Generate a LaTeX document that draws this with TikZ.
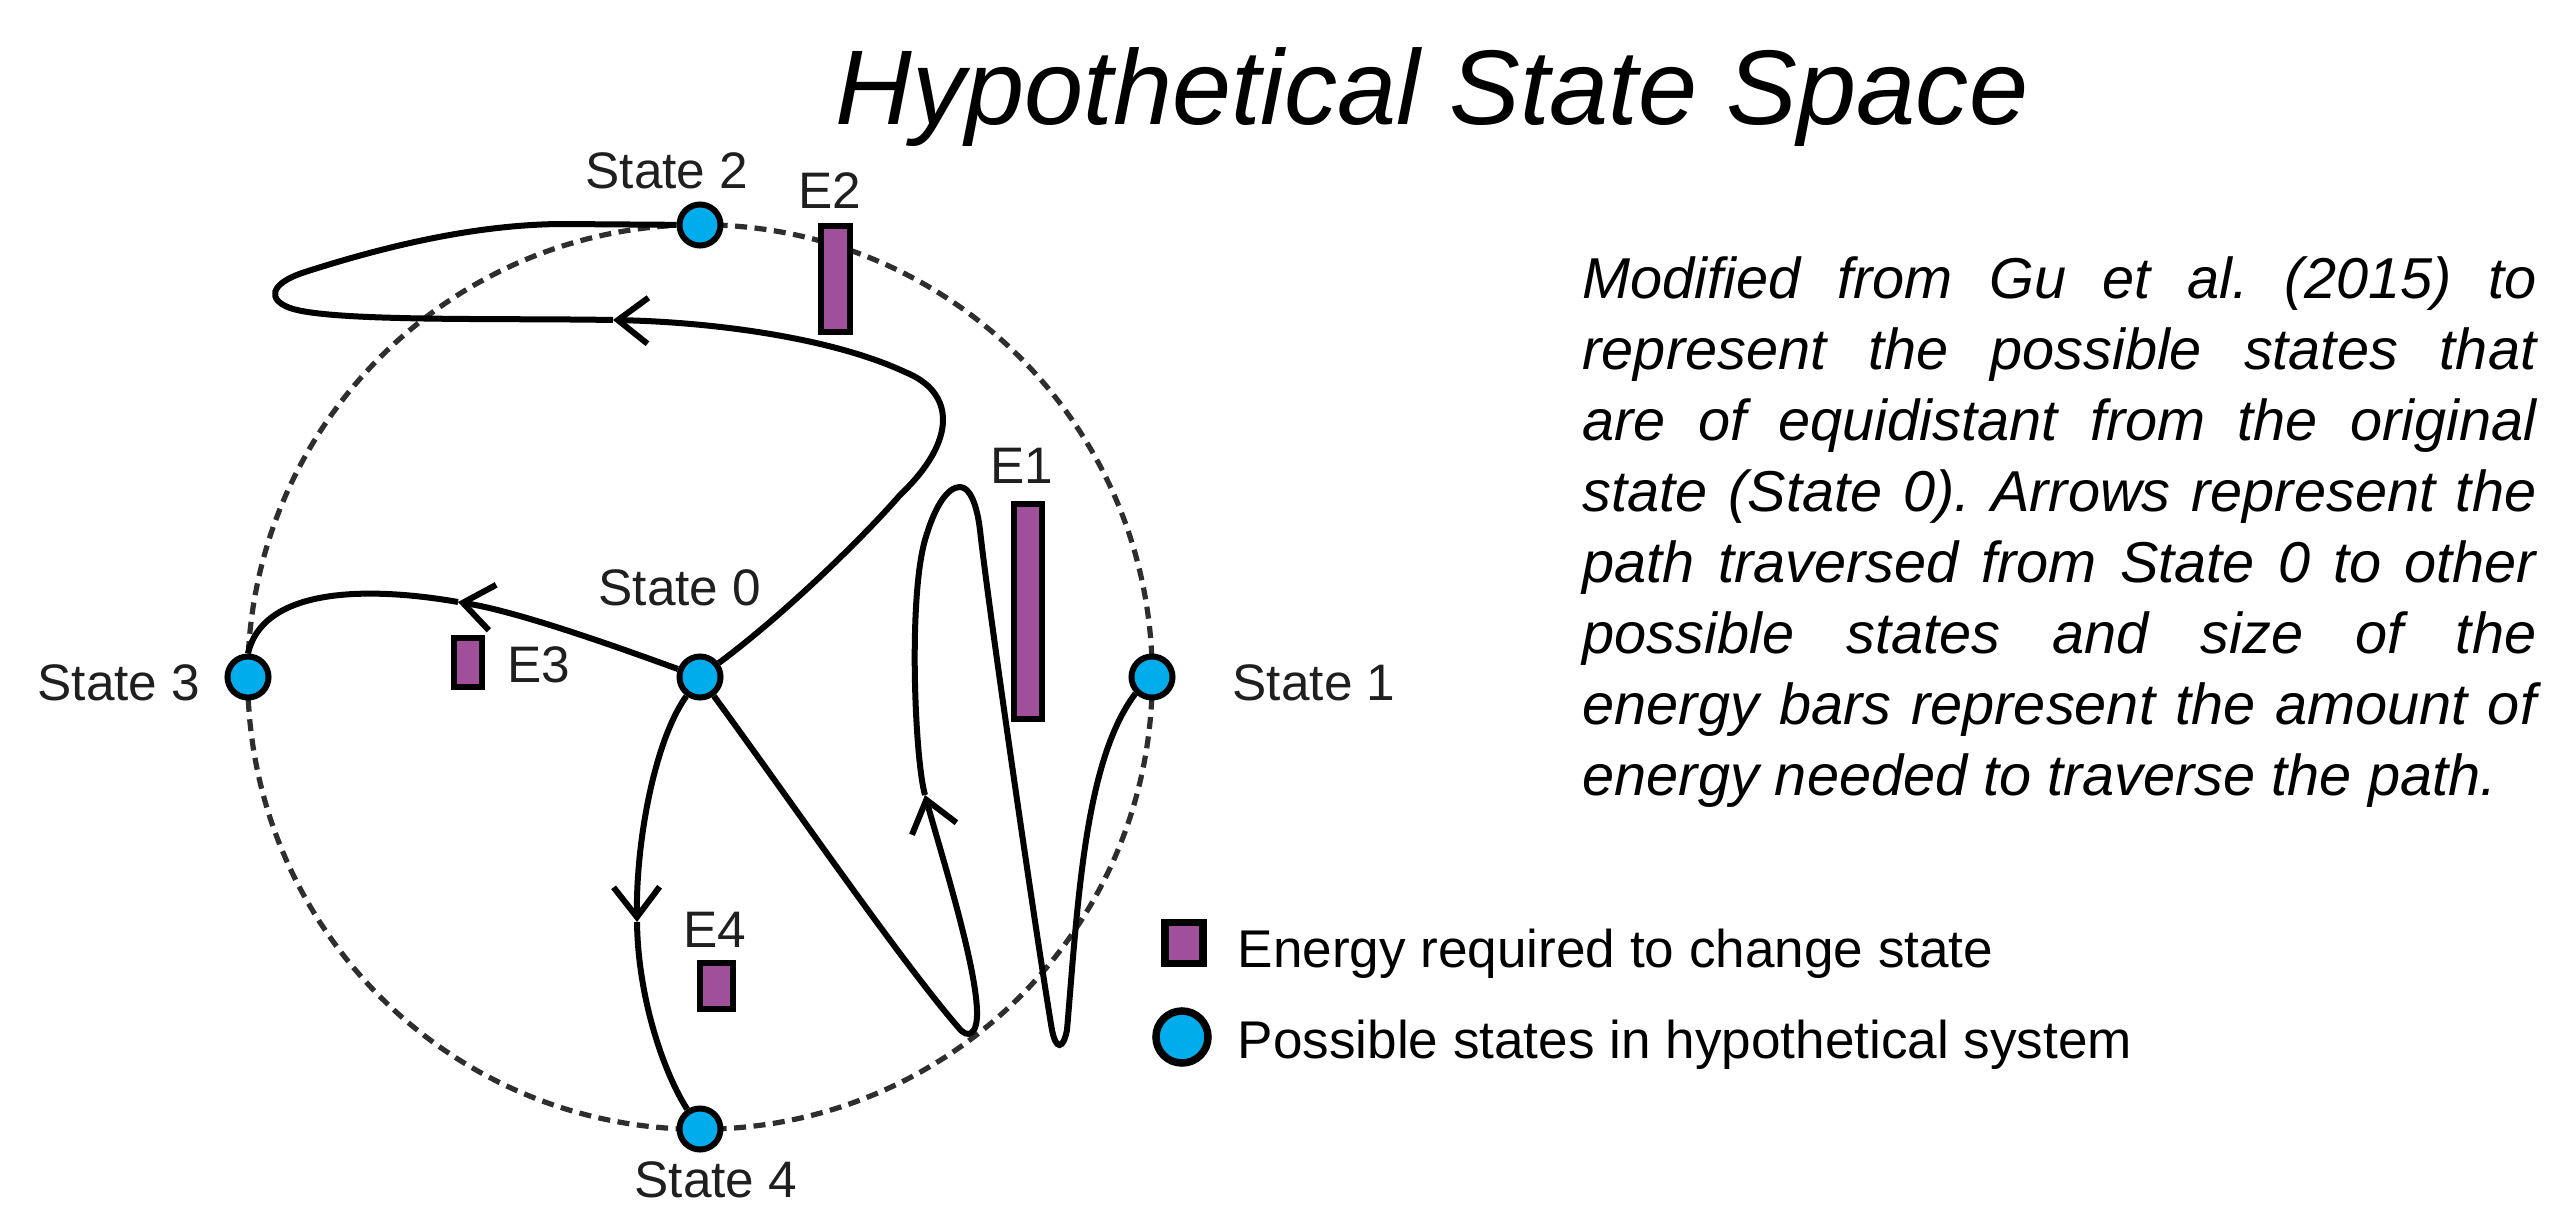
\documentclass[tikz,border=0pt]{standalone}
\usepackage{fontspec}
\setmainfont{Liberation Sans}
\usetikzlibrary{arrows.meta}
\definecolor{ebarcol}{RGB}{160,80,155}
\definecolor{statecol}{RGB}{0,172,236}
\begin{document}
\frenchspacing
\begin{tikzpicture}[x=0.01cm,y=-0.01cm,
 statenode/.style={circle,draw=black,line width=0.06cm,fill=statecol,minimum size=0.41cm,inner sep=0pt},
 ebarnode/.style={rectangle,draw=black,line width=0.06cm,fill=ebarcol,inner sep=0pt},
 lab/.style={font=\fontsize{14.6pt}{17pt}\selectfont,text=black!88,inner sep=0pt},
 desc/.style={font=\fontsize{16.4pt}{20pt}\selectfont\itshape,inner sep=0pt,anchor=base west},
 legtext/.style={font=\fontsize{15.1pt}{18pt}\selectfont,inner sep=0pt,anchor=base west},
 pathline/.style={line width=0.06cm,black},
 barb/.style={pathline,-{Straight Barb[length=0.3cm,width=0.46cm]}},
 ring/.style={line width=0.052cm,black!82,dash pattern=on 0.12cm off 0.075cm}]
\useasboundingbox (0,0) rectangle (2553,1215);

% title
\node[font=\fontsize{30.2pt}{36pt}\selectfont\itshape,anchor=base,inner sep=0pt] (title) at (1432,124) {Hypothetical State Space};

% centre and ring
\coordinate (c) at (700,677);
\draw[ring] (c) circle[radius=4.52cm];

% energy bars
\node[ebarnode,minimum width=0.29cm,minimum height=1.06cm] (e2) at (835.5,279) {};
\node[ebarnode,minimum width=0.28cm,minimum height=2.15cm] (e1) at (1028,611.5) {};
\node[ebarnode,minimum width=0.28cm,minimum height=0.49cm] (e3) at (468,662.5) {};
\node[ebarnode,minimum width=0.33cm,minimum height=0.46cm] (e4) at (716.5,986) {};

% coordinates where the path arrows sit
\coordinate (a2) at (613,320);
\coordinate (a3) at (458,602);
\coordinate (a4) at (637,922);
\coordinate (a1) at (925,795);

% states
\node[statenode] (s0) at (700,677) {};
\node[statenode] (s1) at (1152,677) {};
\node[statenode] (s2) at (700,225) {};
\node[statenode] (s3) at (248,677) {};
\node[statenode] (s4) at (700,1129) {};

% paths
% State 0 -> State 2
\draw[barb] (s0) .. controls (790,610) and (870,530) .. (900,495)
  .. controls (958,440) and (955,392) .. (905,372)
  .. controls (830,337) and (710,322) .. (a2);
\draw[pathline] (a2) .. controls (500,318) and (330,322) .. (290,308)
  .. controls (268,300) and (268,284) .. (305,272)
  .. controls (380,248) and (470,225) .. (560,224) -- (s2);
% State 0 -> State 3
\draw[barb] (s0) .. controls (620,648) and (520,612) .. (a3);
\draw[pathline] (a3) .. controls (390,590) and (265,580) .. (s3.north);
% State 0 -> State 4
\draw[barb] (s0) .. controls (655,740) and (636,840) .. (a4);
\draw[pathline] (a4) .. controls (638,1000) and (665,1075) .. (s4);
% State 0 -> State 1
\draw[barb] (s0) .. controls (790,800) and (900,960) .. (958,1027)
  .. controls (968,1040) and (978,1035) .. (977,1010)
  .. controls (975,960) and (940,850) .. (a1);
\draw[pathline] (a1) .. controls (915,760) and (908,600) .. (925,540)
  .. controls (935,505) and (948,487) .. (960,487)
  .. controls (970,487) and (977,505) .. (980,530)
  .. controls (990,620) and (1040,960) .. (1052,1030)
  .. controls (1056,1050) and (1063,1050) .. (1067,1030)
  .. controls (1078,900) and (1085,760) .. (s1.south west);

% labels
\node[lab,anchor=base] (l2) at (667,188) {State 2};
\node[lab,anchor=base] (l0) at (680,605) {State 0};
\node[lab,anchor=base east] (l3) at (201,700) {State 3};
\node[lab,anchor=base west] (l1) at (1232,700) {State 1};
\node[lab,anchor=base] (l4) at (716,1197) {State 4};
\node[lab,anchor=base] (le2) at (830,208) {E2};
\node[lab,anchor=base] (le1) at (1022,483) {E1};
\node[lab,anchor=base west] (le3) at (507,682) {E3};
\node[lab,anchor=base] (le4) at (715,947) {E4};

% description
\node[desc] (d1) at (1582,298) {\makebox[9.53cm][s]{Modified from Gu et al. (2015) to}};
\node[desc] (d2) at (1582,369) {\makebox[9.53cm][s]{represent the possible states that}};
\node[desc] (d3) at (1582,440) {\makebox[9.53cm][s]{are of equidistant from the original}};
\node[desc] (d4) at (1582,511) {\makebox[9.53cm][s]{state (State 0). Arrows represent the}};
\node[desc] (d5) at (1582,582) {\makebox[9.53cm][s]{path traversed from State 0 to other}};
\node[desc] (d6) at (1582,653) {\makebox[9.53cm][s]{possible states and size of the}};
\node[desc] (d7) at (1582,724) {\makebox[9.53cm][s]{energy bars represent the amount of}};
\node[desc] (d8) at (1582,795) {energy needed to traverse the path.};

% legend
\node[rectangle,draw=black,line width=0.075cm,fill=ebarcol,inner sep=0pt,minimum width=0.38cm,minimum height=0.41cm] (lsq) at (1184,943) {};
\node[legtext] (lt1) at (1237,967) {Energy required to change state};
\node[circle,draw=black,line width=0.075cm,fill=statecol,inner sep=0pt,minimum size=0.52cm] (lc) at (1182,1037) {};
\node[legtext] (lt2) at (1237,1058) {Possible states in hypothetical system};
\end{tikzpicture}
\end{document}
